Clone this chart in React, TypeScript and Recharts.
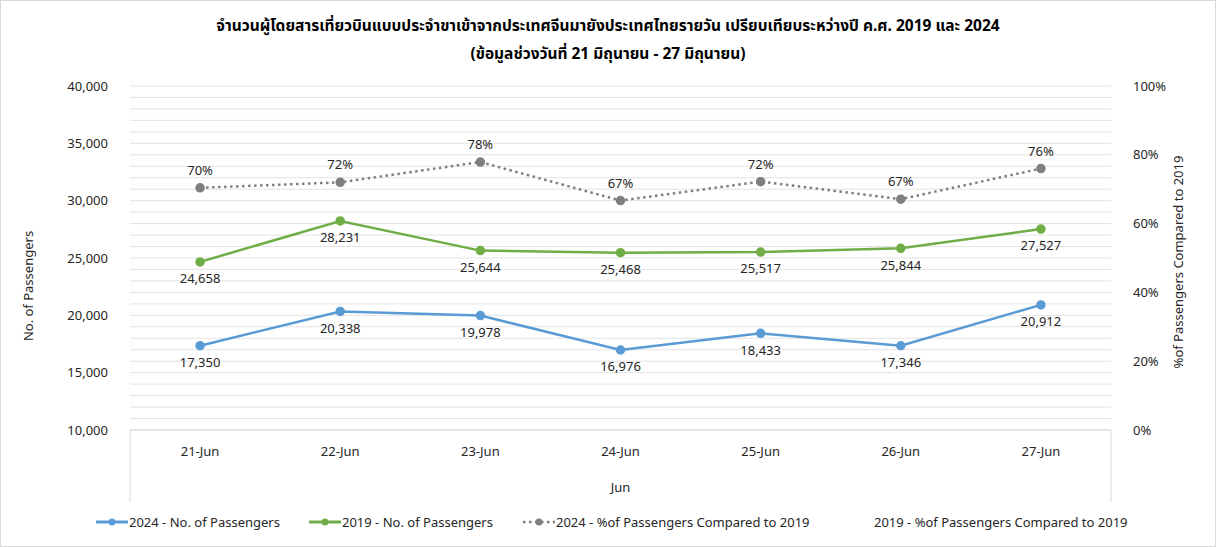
import React from 'react';
import { LineChart, Line, XAxis, YAxis, CartesianGrid, LabelList } from 'recharts';

const days = ['21-Jun', '22-Jun', '23-Jun', '24-Jun', '25-Jun', '26-Jun', '27-Jun'];
const months = ['Jun', 'Jun', 'Jun', 'Jun', 'Jun', 'Jun', 'Jun'];
const pax2024 = [17350, 20338, 19978, 16976, 18433, 17346, 20912];
const pax2019 = [24658, 28231, 25644, 25468, 25517, 25844, 27527];
const pct2024 = [70.4, 72.0, 77.9, 66.7, 72.2, 67.1, 76.0];

// every 1,000 gets a gridline, only every 5,000 gets a label
const leftTicks = [10000, 11000, 12000, 13000, 14000, 15000, 16000, 17000, 18000, 19000, 20000, 21000, 22000, 23000, 24000, 25000, 26000, 27000, 28000, 29000, 30000, 31000, 32000, 33000, 34000, 35000, 36000, 37000, 38000, 39000, 40000];
const rightTicks = [0, 20, 40, 60, 80, 100];

const titleLine1 = 'จำนวนผู้โดยสารเที่ยวบินแบบประจำขาเข้าจากประเทศจีนมายังประเทศไทยรายวัน เปรียบเทียบระหว่างปี ค.ศ. 2019 และ 2024';
const titleLine2 = '(ข้อมูลช่วงวันที่ 21 มิถุนายน - 27 มิถุนายน)';

const BLUE = '#5B9BD5';
const GREEN = '#70AD47';
const GRAY = '#7F7F7F';
const TEXT = '#262626';
const FONT = '"Noto Sans", "Noto Sans Thai", Tahoma, sans-serif';

const data = days.map((d, i) => ({
  day: d,
  month: months[i],
  p2024: pax2024[i],
  p2019: pax2019[i],
  pct: pct2024[i],
}));

const fmtNum = (v: number) => v.toLocaleString('en-US');
const fmtLeft = (v: number) => (v % 5000 === 0 ? fmtNum(v) : '');

// day ticks; the outer ones also draw the sides of the category box
const DayTick = (props: any) => {
  const { x, y, payload, index, visibleTicksCount } = props;
  const half = payload.offset || 70;
  const top = y - 17;
  return (
    <g>
      <text x={x} y={y} dy="0.71em" textAnchor="middle" fill={TEXT} fontSize={13} fontFamily={FONT}>
        {payload.value}
      </text>
      {index === 0 && <line x1={x - half} x2={x - half} y1={top} y2={top + 72} stroke="#D9D9D9" />}
      {index === visibleTicksCount - 1 && <line x1={x + half} x2={x + half} y1={top} y2={top + 72} stroke="#D9D9D9" />}
    </g>
  );
};

const legendItems = [
  { name: '2024 - No. of Passengers', color: BLUE, kind: 'solid', left: 96 },
  { name: '2019 - No. of Passengers', color: GREEN, kind: 'solid', left: 309 },
  { name: '2024 - %of Passengers Compared to 2019', color: GRAY, kind: 'dot', left: 523 },
  { name: '2019 - %of Passengers Compared to 2019', color: 'none', kind: 'none', left: 841 },
];

export default function App() {
  return (
    <div style={{ position: 'absolute', left: 0, top: 0, width: 1216, height: 547, background: '#fff', fontFamily: FONT }}>
      <div style={{ position: 'absolute', left: 0, top: 11, width: 1216, textAlign: 'center', fontSize: 15.5, fontWeight: 'bold', color: '#000', lineHeight: '28px' }}>
        <div>{titleLine1}</div>
        <div>{titleLine2}</div>
      </div>
      <LineChart
        width={1216}
        height={547}
        data={data}
        margin={{ top: 86, right: 0, bottom: 47, left: 0 }}
        style={{ position: 'absolute', left: 0, top: 0 }}
      >
        <CartesianGrid yAxisId="left" vertical={false} stroke="#E3E3E3" />
        <XAxis
          dataKey="day"
          scale="band"
          height={35}
          axisLine={{ stroke: '#D9D9D9' }}
          tickLine={false}
          tickMargin={11}
          tick={<DayTick />}
        />
        <XAxis
          xAxisId="month"
          dataKey="month"
          allowDuplicatedCategory={false}
          height={35}
          axisLine={false}
          tickLine={false}
          tickMargin={12}
          tick={{ fill: TEXT, fontSize: 13, fontFamily: FONT }}
        />
        <YAxis
          yAxisId="left"
          width={130}
          domain={[10000, 40000]}
          ticks={leftTicks}
          interval={0}
          axisLine={false}
          tickLine={false}
          tickMargin={16}
          tickFormatter={fmtLeft}
          tick={{ fill: TEXT, fontSize: 13, fontFamily: FONT }}
          label={({ viewBox }: any) => (
            <text
              x={28}
              y={viewBox.y + viewBox.height / 2 + 28}
              transform={`rotate(-90, 28, ${viewBox.y + viewBox.height / 2 + 28})`}
              textAnchor="middle"
              dominantBaseline="central"
              fill={TEXT}
              fontSize={13}
              fontFamily={FONT}
            >
              No. of Passengers
            </text>
          )}
        />
        <YAxis
          yAxisId="right"
          orientation="right"
          width={105}
          domain={[0, 100]}
          ticks={rightTicks}
          axisLine={false}
          tickLine={false}
          tickMargin={16}
          tickFormatter={(v: number) => `${v}%`}
          tick={{ fill: TEXT, fontSize: 13, fontFamily: FONT }}
          label={({ viewBox }: any) => (
            <text
              x={1178}
              y={viewBox.y + viewBox.height / 2 + 4}
              transform={`rotate(-90, 1178, ${viewBox.y + viewBox.height / 2 + 4})`}
              textAnchor="middle"
              dominantBaseline="central"
              fill={TEXT}
              fontSize={13}
              fontFamily={FONT}
            >
              %of Passengers Compared to 2019
            </text>
          )}
        />
        <Line
          yAxisId="left"
          dataKey="p2024"
          stroke={BLUE}
          strokeWidth={2.5}
          dot={{ r: 3.5, fill: BLUE, stroke: BLUE }}
          isAnimationActive={false}
        >
          <LabelList dataKey="p2024" position="bottom" offset={12} formatter={fmtNum} fill={TEXT} fontSize={13} fontFamily={FONT} />
        </Line>
        <Line
          yAxisId="left"
          dataKey="p2019"
          stroke={GREEN}
          strokeWidth={2.5}
          dot={{ r: 3.5, fill: GREEN, stroke: GREEN }}
          isAnimationActive={false}
        >
          <LabelList dataKey="p2019" position="bottom" offset={12} formatter={fmtNum} fill={TEXT} fontSize={13} fontFamily={FONT} />
        </Line>
        <Line
          yAxisId="right"
          dataKey="pct"
          stroke={GRAY}
          strokeWidth={2.5}
          strokeDasharray="2.5 3.5"
          dot={{ r: 3.5, fill: GRAY, stroke: GRAY, strokeDasharray: '0' }}
          isAnimationActive={false}
        >
          <LabelList
            dataKey="pct"
            position="top"
            offset={13}
            formatter={(v: number) => `${Math.round(v)}%`}
            fill={TEXT}
            fontSize={13}
            fontFamily={FONT}
          />
        </Line>
      </LineChart>
      {legendItems.map((it) => (
        <div
          key={it.name}
          style={{ position: 'absolute', left: it.left, top: 513, height: 18, display: 'flex', alignItems: 'center', fontSize: 13, color: TEXT, whiteSpace: 'nowrap' }}
        >
          <svg width={32} height={10} style={{ marginRight: 1 }}>
            {it.kind === 'solid' && <line x1={0} x2={32} y1={5} y2={5} stroke={it.color} strokeWidth={3} />}
            {it.kind === 'dot' && <line x1={0} x2={32} y1={5} y2={5} stroke={it.color} strokeWidth={2.5} strokeDasharray="2.5 3.5" />}
            {it.kind !== 'none' && <circle cx={16} cy={5} r={3.5} fill={it.color} />}
          </svg>
          {it.name}
        </div>
      ))}
      <div style={{ position: 'absolute', left: 0, top: 0, width: 1216, height: 547, boxSizing: 'border-box', border: '1px solid #D9D9D9', pointerEvents: 'none' }} />
    </div>
  );
}
